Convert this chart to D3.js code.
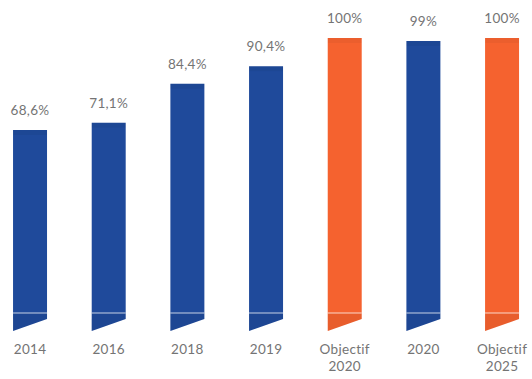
<!DOCTYPE html>
<html>
<head>
<meta charset="utf-8">
<script src="https://cdn.jsdelivr.net/npm/d3@7"></script>
<style>
    body { margin: 0; background: #fff; }
    svg { display: block; }
    text { font-family: Lato, "Open Sans", sans-serif; fill: #747474; }
</style>
</head>
<body>
<div id="chart"></div>
<script>
// donnees
const categories = ['2014', '2016', '2018', '2019', 'Objectif 2020', '2020', 'Objectif 2025'];
const values = [68.6, 71.1, 84.4, 90.4, 100, 99, 100];
const valueLabels = ['68,6%', '71,1%', '84,4%', '90,4%', '100%', '99%', '100%'];
const isTarget = [false, false, false, false, true, false, true];

const width = 532;
const height = 379;
const blue = '#1f4a9b';
const orange = '#f5622f';

const svg = d3.select('#chart')
    .append('svg')
    .attr('width', width)
    .attr('height', height);

const x = d3.scaleBand()
    .domain(categories)
    .range([-9.3, 541.4])
    .paddingInner(0.568)
    .paddingOuter(0.284);

const y = d3.scaleLinear()
    .domain([0, 100])
    .range([331, 38]);

const data = categories.map((c, i) => ({
    cat: c, value: values[i], label: valueLabels[i], target: isTarget[i]
}));

// barres avec un bout en biseau
const bars = svg.append('g')
    .selectAll('g')
    .data(data)
    .enter()
    .append('g');

bars.append('path')
    .attr('d', d => {
        const x0 = x(d.cat), x1 = x0 + x.bandwidth();
        return `M${x0},${y(d.value)}H${x1}V${y(0) - 12}L${x0},${y(0)}Z`;
    })
    .attr('fill', d => d.target ? orange : blue);

// bande un peu plus foncee en haut
bars.append('rect')
    .attr('x', d => x(d.cat))
    .attr('y', d => y(d.value))
    .attr('width', x.bandwidth())
    .attr('height', 5)
    .attr('fill', '#000')
    .attr('opacity', 0.04);

// partie basse legerement plus foncee
bars.append('path')
    .attr('d', d => {
        const x0 = x(d.cat), x1 = x0 + x.bandwidth();
        return `M${x0},${y(0) - 18}H${x1}V${y(0) - 12}L${x0},${y(0)}Z`;
    })
    .attr('fill', '#000')
    .attr('opacity', 0.05);

// fine ligne claire
bars.append('line')
    .attr('x1', d => x(d.cat))
    .attr('x2', d => x(d.cat) + x.bandwidth())
    .attr('y1', y(0) - 18)
    .attr('y2', y(0) - 18)
    .attr('stroke', '#ffffff')
    .attr('stroke-opacity', 0.5)
    .attr('stroke-width', 1.5);

// valeurs au-dessus des barres
svg.append('g')
    .selectAll('text')
    .data(data)
    .enter()
    .append('text')
    .attr('x', d => x(d.cat) + x.bandwidth() / 2)
    .attr('y', d => y(d.value) - 15)
    .attr('text-anchor', 'middle')
    .style('font-size', '13.5px')
    .style('letter-spacing', '0.3px')
    .text(d => d.label);

// libelles des categories
svg.append('g')
    .selectAll('text')
    .data(data)
    .enter()
    .append('text')
    .attr('x', d => x(d.cat) + x.bandwidth() / 2)
    .attr('y', 354)
    .attr('text-anchor', 'middle')
    .style('font-size', '13.5px')
    .style('letter-spacing', '0.3px')
    .each(function (d) {
        const words = d.cat.split(' ');
        d3.select(this).selectAll('tspan')
            .data(words)
            .enter()
            .append('tspan')
            .attr('x', x(d.cat) + x.bandwidth() / 2)
            .attr('dy', (w, i) => i === 0 ? 0 : 17)
            .text(w => w);
    });
</script>
</body>
</html>
